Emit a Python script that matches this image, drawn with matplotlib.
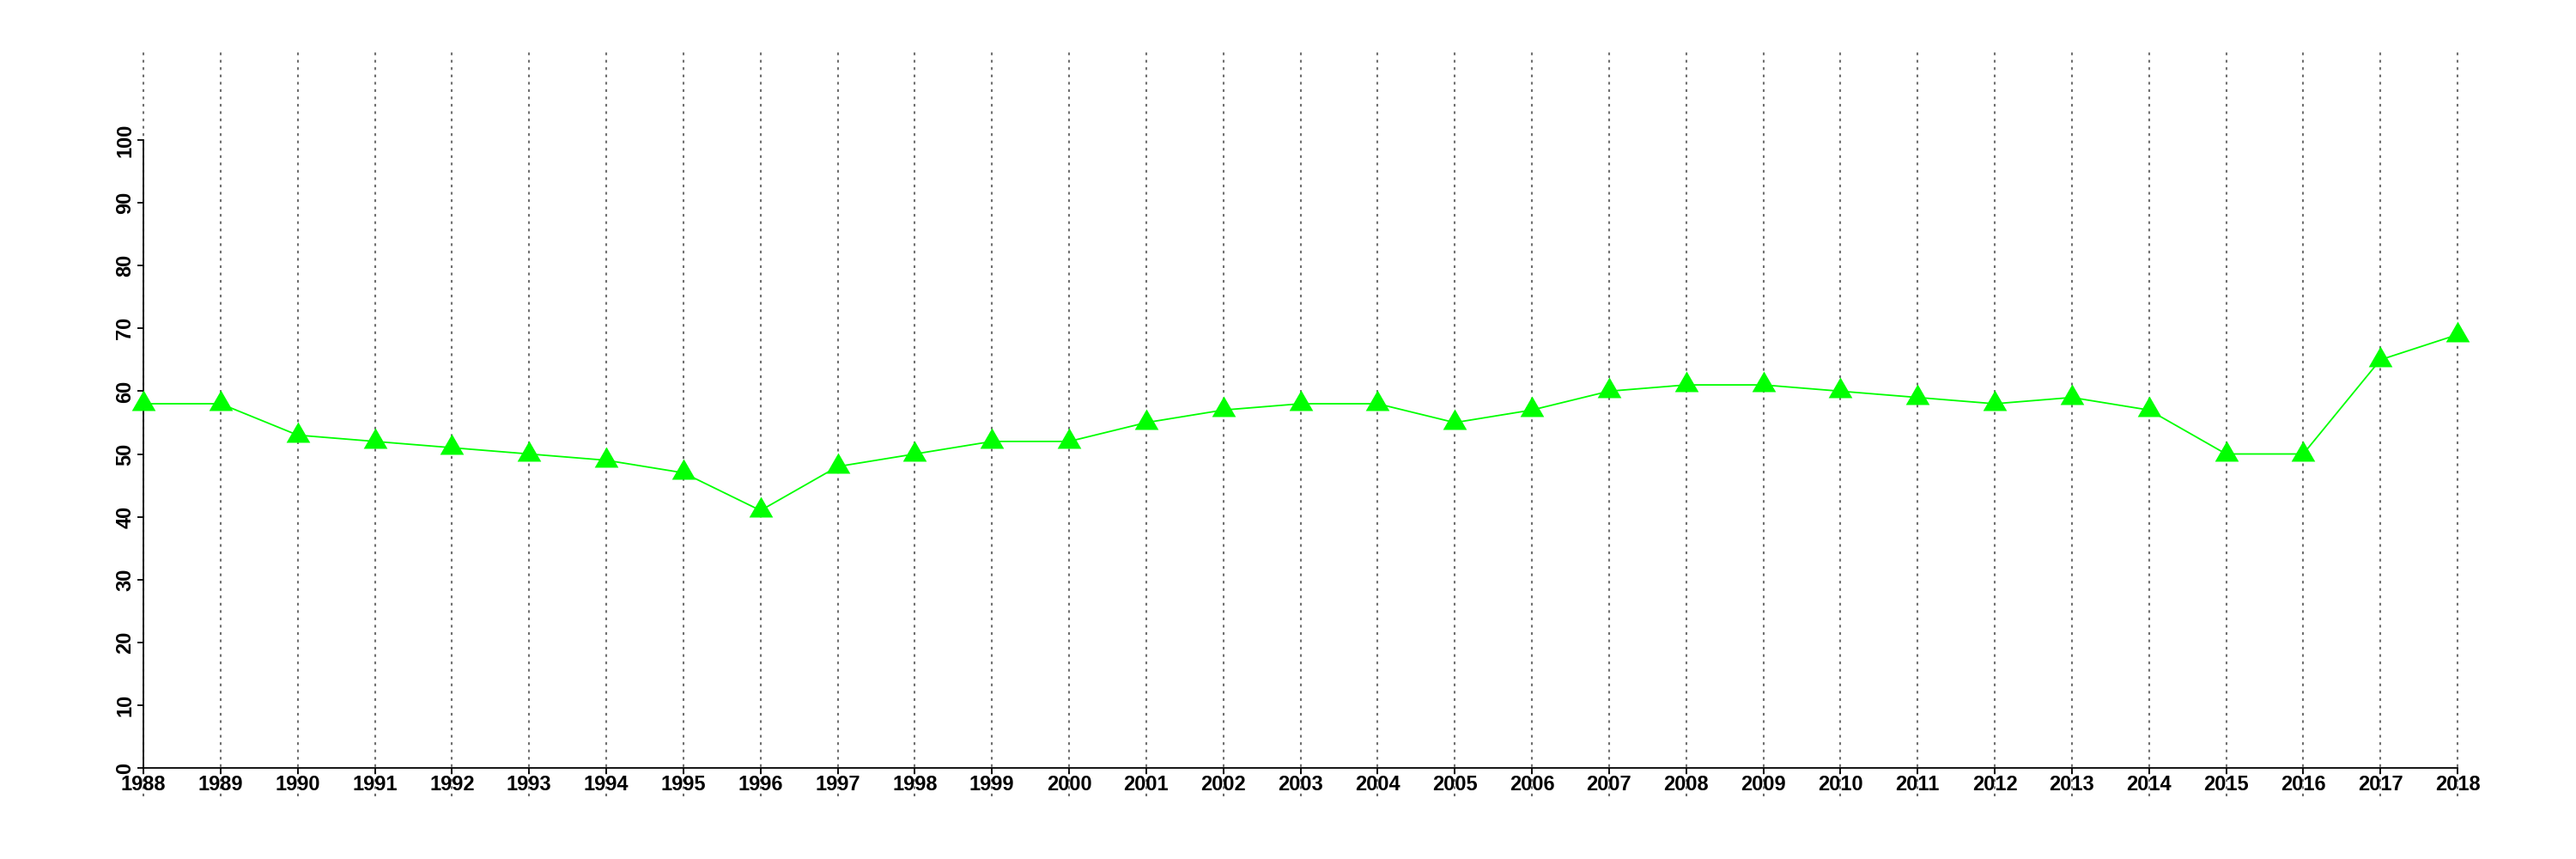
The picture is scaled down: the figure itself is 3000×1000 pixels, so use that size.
import matplotlib
matplotlib.use("Agg")
import matplotlib.pyplot as plt

years = list(range(1988, 2019))
values = [58, 58, 53, 52, 51, 50, 49, 47, 41, 48, 50, 52, 52, 55, 57, 58,
          58, 55, 57, 60, 61, 61, 60, 59, 58, 59, 57, 50, 50, 65, 69]
yticks = list(range(0, 101, 10))

plt.rcParams['font.family'] = ['Liberation Sans', 'DejaVu Sans']

fig = plt.figure(figsize=(30, 10), dpi=100)
ax = fig.add_axes([0.0557, 0.106, 0.8983, 0.731])

# dotted vertical guides, running past the plot box like the original
ax.vlines(years, -4.5, 114, colors='#707070', linewidth=1.5,
          linestyles=(0, (1.5, 2.6)), clip_on=False, zorder=1)

# equilateral triangle marker
tri = [(-1, -0.577), (1, -0.577), (0, 1.155)]
ax.plot(years, values, color='#00ff00', linewidth=1.3, marker=tri,
        markersize=23, markeredgewidth=0, clip_on=False, zorder=3)

ax.set_xlim(1988, 2018)
ax.set_ylim(0, 100)
ax.set_xticks(years)
ax.set_xticklabels([str(y) for y in years])
ax.set_yticks(yticks)
ax.set_yticklabels([str(v) for v in yticks], rotation=90, va='center')

for s in ['top', 'right']:
    ax.spines[s].set_visible(False)
for s in ['left', 'bottom']:
    ax.spines[s].set_linewidth(1.3)
ax.tick_params(axis='both', length=5, width=1.3, labelsize=17, pad=1)
ax.tick_params(axis='y', pad=2)
for lab in ax.get_xticklabels() + ax.get_yticklabels():
    lab.set_fontweight('bold')

fig.savefig('out.png', dpi=100)
